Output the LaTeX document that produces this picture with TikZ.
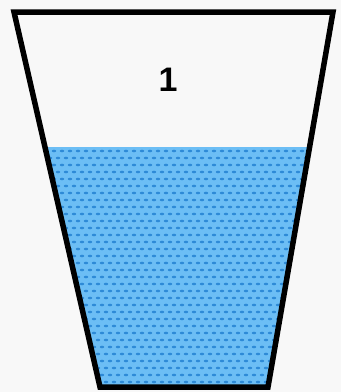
\documentclass[tikz,border=0pt]{standalone}
\usepackage{fontspec}
\setmainfont{Liberation Sans}
\definecolor{water}{RGB}{108,190,245}
\definecolor{waterdot}{RGB}{45,138,215}
\definecolor{paper}{RGB}{248,248,248}

\begin{document}
\begin{tikzpicture}[x=1pt,y=-1pt]
\fill[paper] (0,0) rectangle (341,392);
\useasboundingbox (0,0) rectangle (341,392);
% water
\fill[water] (45,147) -- (310,147) -- (268,387) -- (100,387) -- cycle;
\begin{scope}
\clip (45,147) -- (310,147) -- (268,387) -- (100,387) -- cycle;
\foreach \r in {0,...,34} {
  \foreach \c in {0,...,36} {
    \fill[waterdot] ({38+\c*8+mod(\r,2)*4},{151+\r*7}) ellipse (2.2 and 1.3);
  }
}
\end{scope}
% cup
\draw[line width=5.5pt, line join=miter] (14,12) -- (333,12) -- (268,387) -- (100,387) -- cycle;
\node[font=\bfseries\fontsize{34}{34}\selectfont] (level) at (168,80) {1};
\end{tikzpicture}
\end{document}
